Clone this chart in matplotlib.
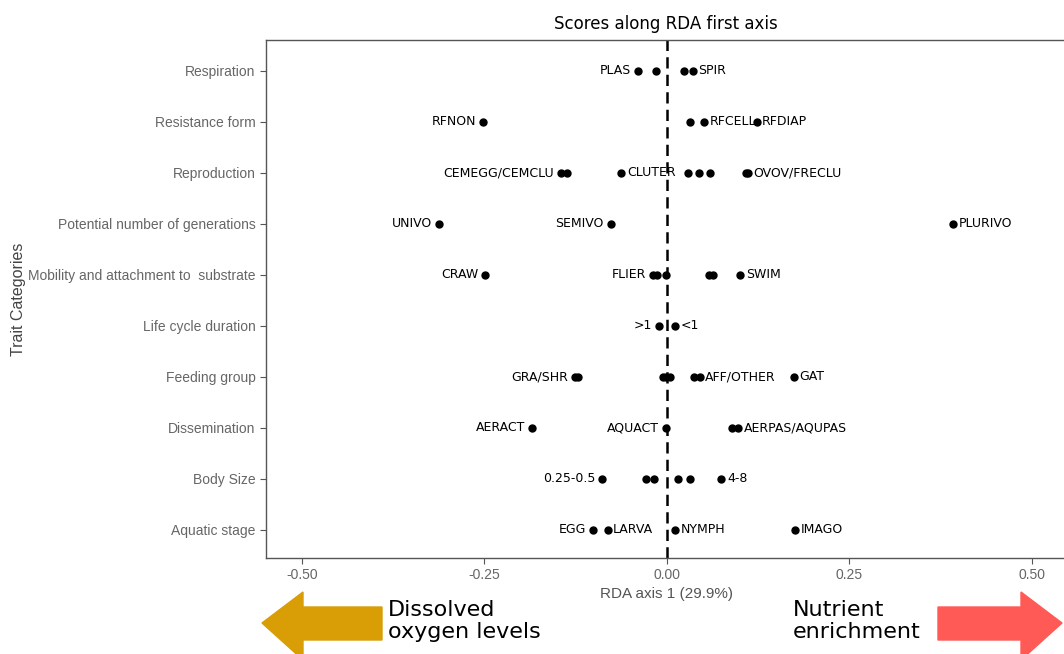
import matplotlib.pyplot as plt
from matplotlib.patches import Polygon

# trait categories, bottom to top
traits = ['Aquatic stage', 'Body Size', 'Dissemination', 'Feeding group',
          'Life cycle duration', 'Mobility and attachment to  substrate',
          'Potential number of generations', 'Reproduction',
          'Resistance form', 'Respiration']

# modality scores on RDA axis 1 (row index into traits)
point_row = [9, 9, 9, 9,
             8, 8, 8, 8,
             7, 7, 7, 7, 7, 7, 7, 7,
             6, 6, 6,
             5, 5, 5, 5, 5, 5, 5,
             4, 4,
             3, 3, 3, 3, 3, 3, 3, 3,
             2, 2, 2, 2,
             1, 1, 1, 1, 1, 1,
             0, 0, 0, 0]
point_score = [-0.040, -0.015, 0.023, 0.036,
               -0.252, 0.032, 0.051, 0.123,
               -0.145, -0.137, -0.062, 0.029, 0.044, 0.059, 0.108, 0.111,
               -0.312, -0.077, 0.392,
               -0.249, -0.019, -0.014, -0.001, 0.058, 0.064, 0.101,
               -0.010, 0.011,
               -0.126, -0.122, -0.005, -0.001, 0.004, 0.038, 0.045, 0.174,
               -0.184, -0.001, 0.090, 0.098,
               -0.088, -0.029, -0.018, 0.015, 0.032, 0.075,
               -0.101, -0.081, 0.011, 0.176]

# labelled modalities
lab_row = [9, 9, 8, 8, 8, 7, 7, 7, 6, 6, 6, 5, 5, 5, 4, 4, 3, 3, 3,
           2, 2, 2, 1, 1, 0, 0, 0, 0]
lab_score = [-0.040, 0.036, -0.252, 0.051, 0.123, -0.145, -0.062, 0.111,
             -0.312, -0.077, 0.392, -0.249, -0.019, 0.101, -0.010, 0.011,
             -0.126, 0.045, 0.174, -0.184, -0.001, 0.098, -0.088, 0.075,
             -0.101, -0.081, 0.011, 0.176]
lab_text = ['PLAS', 'SPIR', 'RFNON', 'RFCELL', 'RFDIAP', 'CEMEGG/CEMCLU',
            'CLUTER', 'OVOV/FRECLU', 'UNIVO', 'SEMIVO', 'PLURIVO', 'CRAW',
            'FLIER', 'SWIM', '>1', '<1', 'GRA/SHR', 'AFF/OTHER', 'GAT',
            'AERACT', 'AQUACT', 'AERPAS/AQUPAS', '0.25-0.5', '4-8',
            'EGG', 'LARVA', 'NYMPH', 'IMAGO']
lab_side = ['l', 'r', 'l', 'r', 'r', 'l', 'r', 'r', 'l', 'l', 'r', 'l',
            'l', 'r', 'l', 'r', 'l', 'r', 'r', 'l', 'l', 'r', 'l', 'r',
            'l', 'r', 'r', 'r']

fig = plt.figure(figsize=(10.64, 6.54), dpi=100)
ax = fig.add_axes([266 / 1064, 1 - 558 / 654, 800 / 1064, 518 / 654])

ax.axvline(0, color='black', lw=1.8, ls=(0, (4.5, 2.5)), zorder=1)
ax.plot(point_score, point_row, 'o', color='black', ms=5, zorder=3)

for r, s, t, side in zip(lab_row, lab_score, lab_text, lab_side):
    if side == 'l':
        ax.annotate(t, (s, r), xytext=(-5, 0), textcoords='offset points',
                    ha='right', va='center', fontsize=9, color='black')
    else:
        ax.annotate(t, (s, r), xytext=(4, 0), textcoords='offset points',
                    ha='left', va='center', fontsize=9, color='black')

ax.set_xlim(-0.549, 0.547)
ax.set_ylim(-0.55, 9.6)
ax.set_xticks([-0.5, -0.25, 0, 0.25, 0.5])
ax.set_xticklabels(['-0.50', '-0.25', '0.00', '0.25', '0.50'])
ax.set_yticks(range(len(traits)))
ax.set_yticklabels(traits)
for sp in ax.spines.values():
    sp.set_color('#555555')
    sp.set_linewidth(1.0)
ax.tick_params(colors='#555555', labelcolor='#666666', length=4, width=0.8)
for lbl in ax.get_xticklabels() + ax.get_yticklabels():
    lbl.set_family('Liberation Sans')
    lbl.set_fontsize(10)

ax.set_xlabel('RDA axis 1 (29.9%)', family='Liberation Sans', fontsize=11,
              color='#555555', labelpad=3)
ax.set_ylabel('Trait Categories', family='Liberation Sans', fontsize=11.5,
              color='#444444')
ax.yaxis.set_label_coords(-0.3, 0.5)
ax.set_title('Scores along RDA first axis', fontsize=12, pad=8)


def px(points):
    return [(x / 1064, 1 - y / 654) for x, y in points]


left_arrow = [(262, 623), (303, 592), (303, 607), (382, 607), (382, 640),
              (303, 640), (303, 660), (262, 623)]
right_arrow = [(1062, 623), (1021, 592), (1021, 607), (938, 607),
               (938, 640), (1021, 640), (1021, 660), (1062, 623)]
fig.add_artist(Polygon(px(left_arrow), closed=True, color='#d99e05',
                       transform=fig.transFigure))
fig.add_artist(Polygon(px(right_arrow), closed=True, color='#ff5a55',
                       transform=fig.transFigure))

fig.text(388 / 1064, 1 - 600 / 654, 'Dissolved\noxygen levels', fontsize=16,
         va='top', ha='left', linespacing=1.1)
fig.text(793 / 1064, 1 - 600 / 654, 'Nutrient\nenrichment', fontsize=16,
         va='top', ha='left', linespacing=1.1)

fig.savefig('out.png', dpi=100)
